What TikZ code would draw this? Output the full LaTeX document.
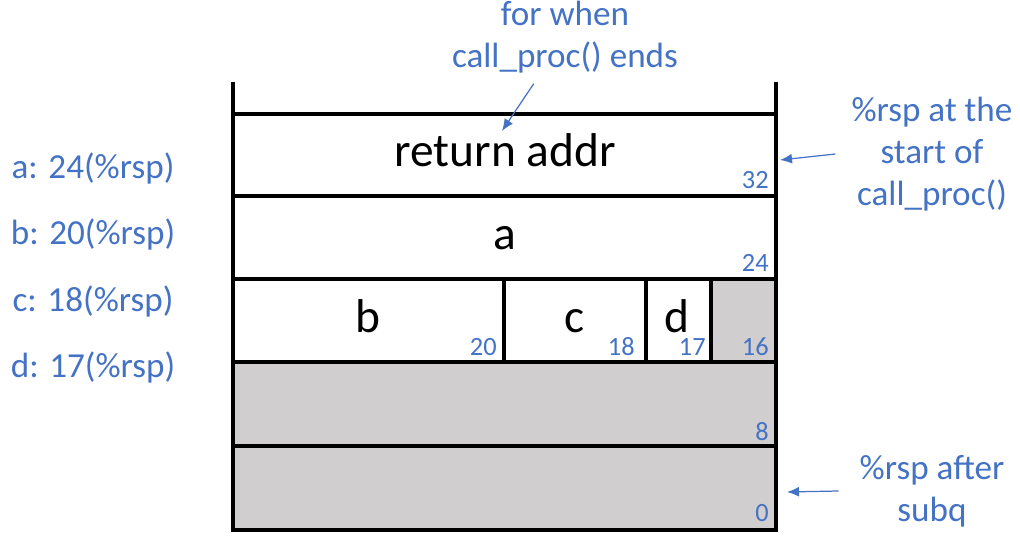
\documentclass[tikz,border=0pt]{standalone}
\usepackage{fontspec}
\setmainfont{Carlito}
\usetikzlibrary{arrows.meta,positioning}
\definecolor{txtblue}{HTML}{4472C4}
\definecolor{slotgray}{HTML}{D0CECE}
\begin{document}
\begin{tikzpicture}[x=0.02cm,y=-0.02cm,node distance=1.333cm]
\tikzstyle{arrow}=[-{Latex[length=0.24cm,width=0.2cm]},txtblue,line width=0.7pt];
\tikzstyle{wall}=[line width=2.7pt,line join=miter];
\tikzstyle{note}=[text=txtblue,font=\fontsize{20}{24}\selectfont,align=center];
\tikzstyle{off}=[text=txtblue,font=\fontsize{15}{18}\selectfont,anchor=base east,inner sep=0pt];
\tikzstyle{var}=[font=\fontsize{27}{32}\selectfont,anchor=base,inner sep=0pt];
\useasboundingbox (0,0) rectangle (1020,543);
% unused slots
\fill[slotgray] (711,279) rectangle (776,362);
\fill[slotgray] (233,362) rectangle (776,530);
% stack frame
\draw[wall] (233,82) -- (233,530) -- (776,530) -- (776,82);
\foreach \y in {114,196,279,362,446} \draw[wall] (233,\y) -- (776,\y);
\foreach \x in {504,646,711} \draw[wall] (\x,279) -- (\x,362);
% contents
\node (ret) [var] at (505,167) {return addr};
\node (a) [var] at (505,250) {a};
\node (b) [var] at (368,333) {b};
\node (c) [var] at (575,333) {c};
\node (d) [var] at (677,333) {d};
% offsets
\node (o32) [off] at (769,189) {32};
\node (o24) [off] at (769,272) {24};
\node (o20) [off] at (497,356) {20};
\node (o18) [off] at (635,356) {18};
\node (o17) [off] at (706,356) {17};
\node (o16) [off] at (769,356) {16};
\node (o8) [off] at (769,440) {8};
\node (o0) [off] at (769,521) {0};
% variables
\node (la) [note] at (93,168) {a: 24(\%rsp)};
\node (lb) [note,below of=la] {b: 20(\%rsp)};
\node (lc) [note,below of=lb] {c: 18(\%rsp)};
\node (ld) [note,below of=lc] {d: 17(\%rsp)};
% notes
\node (ends) [note] at (565,37) {for when\\call\_proc() ends};
\node (start) [note] at (932,154) {\%rsp at the\\start of\\call\_proc()};
\node (subq) [note] at (932,491) {\%rsp after\\subq};
\coordinate (pret) at (502,131);
\coordinate (p32) at (780,160);
\coordinate (p0) at (787,492);
\draw [arrow,shorten <=3pt] (ends) -- (pret);
\draw [arrow] ([xshift=-0.2cm]start.west) -- (p32);
\draw [arrow] ([xshift=-0.3cm]subq.west) -- (p0);
\end{tikzpicture}
\end{document}
